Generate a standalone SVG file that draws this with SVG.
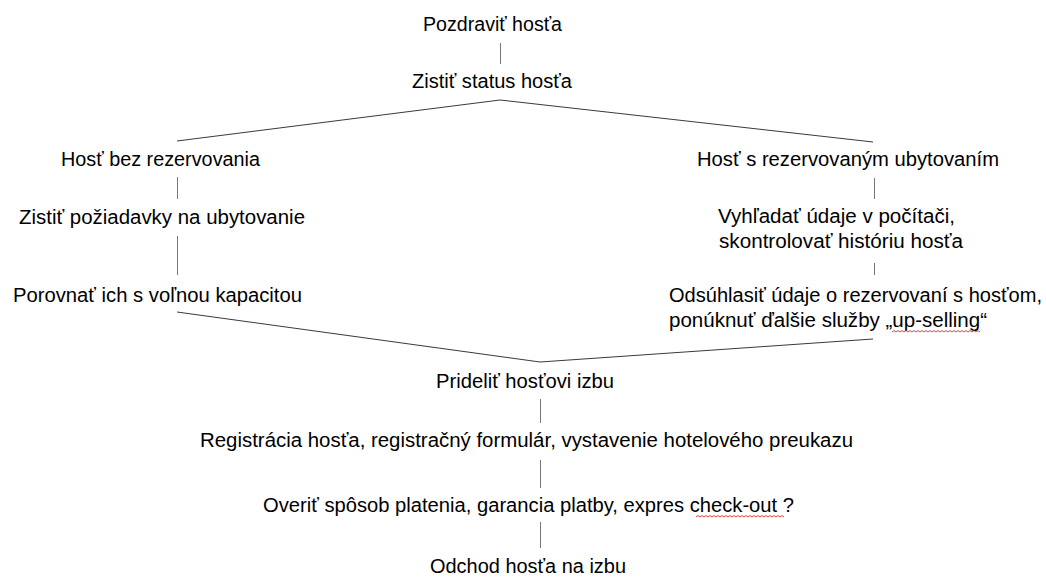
<svg xmlns="http://www.w3.org/2000/svg" width="1046" height="577" viewBox="0 0 1046 577">
<defs>
<style>
.t{font-family:"Liberation Sans",Arial,sans-serif;font-size:20px;fill:#000;}
.c{fill:none;stroke:#3a3a3a;stroke-width:1;}
.v{fill:none;stroke:#777;stroke-width:1;}
.sq{fill:none;stroke:#e0302a;stroke-width:0.9;}
</style>
</defs>
<rect width="1046" height="577" fill="#fff"/>
<g id="connectors">
<line class="v" x1="500.5" y1="43" x2="500.5" y2="64"/>
<polyline class="c" points="177,141 500,100 873,142"/>
<line class="v" x1="177.5" y1="177" x2="177.5" y2="199"/>
<line class="v" x1="177.5" y1="236" x2="177.5" y2="275"/>
<line class="v" x1="874.5" y1="178" x2="874.5" y2="199"/>
<line class="v" x1="874.5" y1="263" x2="874.5" y2="275"/>
<polyline class="c" points="177,312 540,362 873,339"/>
<line class="v" x1="540.5" y1="399" x2="540.5" y2="423"/>
<line class="v" x1="540.5" y1="460" x2="540.5" y2="488"/>
<line class="v" x1="540.5" y1="522" x2="540.5" y2="548"/>
</g>
<g id="n1"><text class="t" x="423" y="31" textLength="139" lengthAdjust="spacingAndGlyphs">Pozdraviť hosťa</text></g>
<g id="n2"><text class="t" x="412" y="88" textLength="160" lengthAdjust="spacingAndGlyphs">Zistiť status hosťa</text></g>
<g id="n3"><text class="t" x="61" y="166" textLength="199" lengthAdjust="spacingAndGlyphs">Hosť bez rezervovania</text></g>
<g id="n4"><text class="t" x="19" y="224" textLength="286" lengthAdjust="spacingAndGlyphs">Zistiť požiadavky na ubytovanie</text></g>
<g id="n5"><text class="t" x="13" y="302" textLength="289" lengthAdjust="spacingAndGlyphs">Porovnať ich s voľnou kapacitou</text></g>
<g id="n6"><text class="t" x="697" y="166" textLength="302" lengthAdjust="spacingAndGlyphs">Hosť s rezervovaným ubytovaním</text></g>
<g id="n7">
<text class="t" x="718" y="223" textLength="237" lengthAdjust="spacingAndGlyphs">Vyhľadať údaje v počítači,</text>
<text class="t" x="719" y="248" textLength="244" lengthAdjust="spacingAndGlyphs">skontrolovať históriu hosťa</text>
</g>
<g id="n8">
<text class="t" x="669" y="302" textLength="373" lengthAdjust="spacingAndGlyphs">Odsúhlasiť údaje o rezervovaní s hosťom,</text>
<text class="t" x="669" y="327" textLength="318" lengthAdjust="spacingAndGlyphs">ponúknuť ďalšie služby „up-selling“</text>
<path class="sq" d="M892 332 l2 -1.5 l2 1.5 l2 -1.5 l2 1.5 l2 -1.5 l2 1.5 l2 -1.5 l2 1.5 l2 -1.5 l2 1.5 l2 -1.5 l2 1.5 l2 -1.5 l2 1.5 l2 -1.5 l2 1.5 l2 -1.5 l2 1.5 l2 -1.5 l2 1.5 l2 -1.5 l2 1.5 l2 -1.5 l2 1.5 l2 -1.5 l2 1.5 l2 -1.5 l2 1.5 l2 -1.5 l2 1.5 l2 -1.5 l2 1.5 l2 -1.5 l2 1.5 l2 -1.5 l2 1.5 l2 -1.5 l2 1.5 l2 -1.5 l2 1.5 l2 -1.5 l2 1.5 l2 -1.5 l2 1.5"/>
</g>
<g id="n9"><text class="t" x="436" y="388" textLength="178" lengthAdjust="spacingAndGlyphs">Prideliť hosťovi izbu</text></g>
<g id="n10"><text class="t" x="200" y="447" textLength="653" lengthAdjust="spacingAndGlyphs">Registrácia hosťa, registračný formulár, vystavenie hotelového preukazu</text></g>
<g id="n11">
<text class="t" x="263" y="512" textLength="531" lengthAdjust="spacingAndGlyphs">Overiť spôsob platenia, garancia platby, expres check-out ?</text>
<path class="sq" d="M696 517 l2 -1.5 l2 1.5 l2 -1.5 l2 1.5 l2 -1.5 l2 1.5 l2 -1.5 l2 1.5 l2 -1.5 l2 1.5 l2 -1.5 l2 1.5 l2 -1.5 l2 1.5 l2 -1.5 l2 1.5 l2 -1.5 l2 1.5 l2 -1.5 l2 1.5 l2 -1.5 l2 1.5 l2 -1.5 l2 1.5 l2 -1.5 l2 1.5 l2 -1.5 l2 1.5 l2 -1.5 l2 1.5 l2 -1.5 l2 1.5 l2 -1.5 l2 1.5 l2 -1.5 l2 1.5 l2 -1.5 l2 1.5 l2 -1.5 l2 1.5 l2 -1.5 l2 1.5 l2 -1.5 l2 1.5"/>
</g>
<g id="n12"><text class="t" x="430" y="573" textLength="196" lengthAdjust="spacingAndGlyphs">Odchod hosťa na izbu</text></g>
</svg>
